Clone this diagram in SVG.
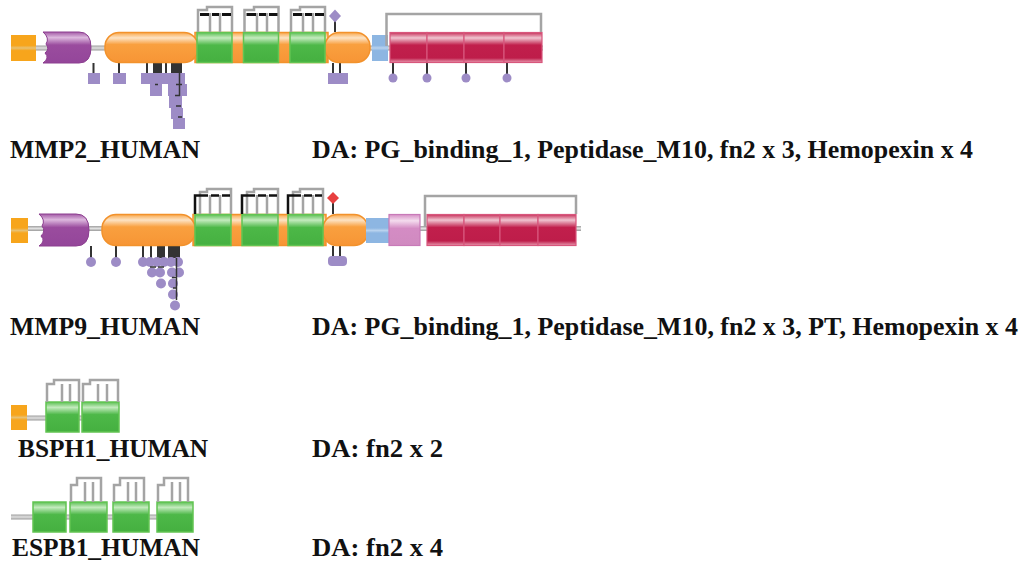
<svg xmlns="http://www.w3.org/2000/svg" width="1024" height="571" viewBox="0 0 1024 571">
<defs>
<linearGradient id="gOr" x1="0" y1="0" x2="0" y2="1"><stop offset="0" stop-color="#F9A84C"/><stop offset="0.18" stop-color="#FDE3C4"/><stop offset="0.4" stop-color="#F9A03F"/><stop offset="1" stop-color="#F79535"/></linearGradient>
<linearGradient id="gGr" x1="0" y1="0" x2="0" y2="1"><stop offset="0" stop-color="#5CC054"/><stop offset="0.18" stop-color="#C4EBBE"/><stop offset="0.42" stop-color="#4DB848"/><stop offset="1" stop-color="#45B040"/></linearGradient>
<linearGradient id="gRd" x1="0" y1="0" x2="0" y2="1"><stop offset="0" stop-color="#C8325C"/><stop offset="0.18" stop-color="#F0C4D0"/><stop offset="0.42" stop-color="#C11F4C"/><stop offset="0.85" stop-color="#BE1D4A"/><stop offset="1" stop-color="#E89AB0"/></linearGradient>
<linearGradient id="gPu" x1="0" y1="0" x2="0" y2="1"><stop offset="0" stop-color="#A35AA6"/><stop offset="0.18" stop-color="#DDB8DE"/><stop offset="0.42" stop-color="#9A4C9E"/><stop offset="1" stop-color="#94469A"/></linearGradient>
<linearGradient id="gBl" x1="0" y1="0" x2="0" y2="1"><stop offset="0" stop-color="#8DB6E2"/><stop offset="0.4" stop-color="#8DB6E2"/><stop offset="0.5" stop-color="#B8D2EE"/><stop offset="0.6" stop-color="#8DB6E2"/><stop offset="1" stop-color="#8DB6E2"/></linearGradient>
<linearGradient id="gPk" x1="0" y1="0" x2="0" y2="1"><stop offset="0" stop-color="#D690C6"/><stop offset="0.2" stop-color="#F4DCEE"/><stop offset="0.45" stop-color="#D48CC4"/><stop offset="1" stop-color="#D08AC0"/></linearGradient>
<linearGradient id="gSq" x1="0" y1="0" x2="0" y2="1"><stop offset="0" stop-color="#F7A51C"/><stop offset="0.4" stop-color="#F7A51C"/><stop offset="0.5" stop-color="#E8C070"/><stop offset="0.6" stop-color="#F7A51C"/><stop offset="1" stop-color="#F7A51C"/></linearGradient>
<linearGradient id="gLn" x1="0" y1="0" x2="0" y2="1"><stop offset="0" stop-color="#A0A0A0"/><stop offset="0.5" stop-color="#E0E0E0"/><stop offset="1" stop-color="#9A9A9A"/></linearGradient>
<style>
.ln{fill:url(#gLn)}
.sq{fill:url(#gSq)}
.or{fill:url(#gOr);stroke:#F2922C;stroke-width:1.5}
.gr{fill:url(#gGr);stroke:#62C452;stroke-width:1.5}
.rd{fill:url(#gRd);stroke:#D8567C;stroke-width:1.2}
.pu{fill:url(#gPu);stroke:#8C3E90;stroke-width:1}
.bl{fill:url(#gBl)}
.pk{fill:url(#gPk);stroke:#C87AB8;stroke-width:1.2}
.cg{fill:none;stroke:#A4A4A4;stroke-width:2.5}
.cb{fill:none;stroke:#111;stroke-width:3}
.ck{fill:none;stroke:#111;stroke-width:2.5}
.st{stroke:#333;stroke-width:2;fill:none}
.pp{fill:#9D8CC6}
.lbl{font-family:"Liberation Serif","Times New Roman",serif;font-weight:bold;font-size:26px;fill:#111}
</style>
</defs>

<g id="connectors">
<rect class="ln" x="11" y="45.5" width="532" height="5"/>
<rect class="ln" x="11" y="226" width="570" height="5"/>
<rect class="ln" x="11" y="415.5" width="108" height="5"/>
<rect class="ln" x="11" y="514.5" width="182" height="5"/>
</g>

<g id="mmp2">
<rect class="sq" x="11" y="35" width="25" height="26"/>
<path class="pu" d="M43,32 H79 Q91,32 91,47.5 Q91,63 79,63 H43 Q50,58 45,53 Q50,49 46,44 Q50,38 43,32 Z"/>
<g id="mmp2-pins">
<path class="st" d="M93.5,63V74 M119,63V74 M147,63V74 M166,63V74"/>
<rect fill="#333" x="153" y="63" width="9" height="10"/>
<rect fill="#333" x="171" y="63" width="11" height="10"/>
<rect class="pp" x="88" y="73" width="12" height="11"/>
<rect class="pp" x="113" y="73" width="13" height="11"/>
<rect class="pp" x="141" y="73" width="44" height="11"/>
<rect class="pp" x="150" y="84" width="12" height="12"/>
<rect class="pp" x="168" y="84" width="19" height="12"/>
<rect class="pp" x="169" y="96" width="13" height="12"/>
<rect class="pp" x="171" y="108" width="12" height="11"/>
<rect class="pp" x="173" y="118" width="12" height="11"/>
<path stroke="#333" stroke-width="1.5" d="M179.5,73V96 M155,84.5h3 M176,84.5h6 M175,95.5h5 M176,106h5 M178,117h4"/>
<path class="st" d="M333,63V74 M340,63V74"/>
<rect class="pp" x="328" y="73" width="20" height="11"/>
<path class="st" d="M335,21V32"/>
<path class="pp" d="M335,9.5 L341,16 L335,22.5 L329,16 Z"/>
<path class="st" d="M393,63V75 M427,63V75 M466,63V75 M507,63V75"/>
<circle class="pp" cx="393" cy="78" r="4.5"/>
<circle class="pp" cx="427" cy="78" r="4.5"/>
<circle class="pp" cx="466" cy="78" r="4.5"/>
<circle class="pp" cx="507" cy="78" r="4.5"/>
</g>
<rect class="or" x="195" y="32.5" width="133" height="30"/>
<rect class="or" x="105" y="32.5" width="93" height="30" rx="14"/>
<rect class="or" x="325" y="32.5" width="45" height="30" rx="14"/>
<rect class="gr" x="197" y="32.5" width="35" height="30"/>
<rect class="gr" x="243.5" y="32.5" width="35" height="30"/>
<rect class="gr" x="290" y="32.5" width="35" height="30"/>
<path class="cg" d="M198,32V10H207V7H232V32 M210,13V32 M220,13V32"/>
<path class="cb" d="M200,14.5H209 M212,14.5H219 M222,14.5H231"/>
<path class="cg" d="M244.5,32V10H254V7H278.5V32 M257,13V32 M267,13V32"/>
<path class="cb" d="M246.5,14.5H256 M259,14.5H266 M269,14.5H277.5"/>
<path class="cg" d="M291,32V10H300V7H325V32 M303,13V32 M313,13V32"/>
<path class="cb" d="M293,14.5H302 M305,14.5H312 M315,14.5H324"/>
<rect class="bl" x="372" y="35" width="16" height="26"/>
<rect class="rd" x="390" y="32.5" width="37" height="30"/>
<rect class="rd" x="427" y="32.5" width="37" height="30"/>
<rect class="rd" x="464" y="32.5" width="40" height="30"/>
<rect class="rd" x="504" y="32.5" width="38" height="30"/>
<path class="cg" d="M386.5,46V14H541V32"/>
<text class="lbl" x="10" y="158" textLength="190" lengthAdjust="spacingAndGlyphs">MMP2_HUMAN</text>
<text class="lbl" x="312" y="158" textLength="661" lengthAdjust="spacingAndGlyphs">DA: PG_binding_1, Peptidase_M10, fn2 x 3, Hemopexin x 4</text>
</g>

<g id="mmp9">
<rect class="sq" x="11" y="218" width="17" height="25"/>
<path class="pu" d="M39,214 H76 Q89,214 89,230 Q89,246 76,246 H39 Q46,241 41,236 Q46,231 42,226 Q46,220 39,214 Z"/>
<g id="mmp9-pins">
<path class="st" d="M91,246V258 M116,246V258 M143,246V258 M151,246V258"/>
<rect fill="#333" x="157" y="246" width="8" height="12"/>
<rect fill="#333" x="168" y="246" width="12" height="12"/>
<circle class="pp" cx="91" cy="262" r="5"/>
<circle class="pp" cx="116" cy="262" r="5"/>
<circle class="pp" cx="143" cy="262" r="5"/>
<circle class="pp" cx="150" cy="262" r="5"/>
<circle class="pp" cx="157" cy="262" r="5"/>
<circle class="pp" cx="164" cy="262" r="5"/>
<circle class="pp" cx="171" cy="262" r="5"/>
<circle class="pp" cx="178" cy="262" r="5"/>
<circle class="pp" cx="152" cy="272.5" r="5"/>
<circle class="pp" cx="160" cy="272.5" r="5"/>
<circle class="pp" cx="172" cy="272.5" r="5"/>
<circle class="pp" cx="179" cy="272.5" r="5"/>
<circle class="pp" cx="161" cy="283.5" r="5"/>
<circle class="pp" cx="173" cy="283.5" r="5"/>
<circle class="pp" cx="173" cy="294.5" r="5"/>
<circle class="pp" cx="175" cy="305.5" r="5"/>
<path stroke="#333" stroke-width="1.5" d="M176.5,258V300 M150,267h6 M158,267h6 M172,277.5h5 M173,288h3"/>
<path class="st" d="M333,246V257 M340,246V257"/>
<rect class="pp" x="328" y="256" width="19" height="10" rx="4"/>
<path class="st" d="M333,203V214"/>
<path fill="#E84040" d="M333,192 L339,198 L333,204 L327,198 Z"/>
</g>
<rect class="or" x="193" y="214.5" width="133" height="31"/>
<rect class="or" x="102" y="214.5" width="93" height="31" rx="14"/>
<rect class="or" x="323" y="214.5" width="45" height="31" rx="14"/>
<rect class="gr" x="195" y="214.5" width="36" height="31"/>
<rect class="gr" x="242" y="214.5" width="36" height="31"/>
<rect class="gr" x="288" y="214.5" width="35" height="31"/>
<path class="cg" d="M200,214V192H207V189H231V214 M210,195V214 M220,195V214"/>
<path class="ck" d="M195,214V195.5H208 M211,195.5H219 M222,195.5H230"/>
<path class="cg" d="M247,214V192H254V189H278V214 M257,195V214 M267,195V214"/>
<path class="ck" d="M242,214V195.5H255 M258,195.5H266 M269,195.5H277"/>
<path class="cg" d="M293,214V192H300V189H323V214 M303,195V214 M313,195V214"/>
<path class="ck" d="M288,214V195.5H301 M304,195.5H312 M315,195.5H322"/>
<rect class="bl" x="366" y="218" width="23" height="25"/>
<rect class="pk" x="389" y="214.5" width="31" height="31"/>
<rect class="rd" x="427" y="214.5" width="37" height="31"/>
<rect class="rd" x="464" y="214.5" width="36" height="31"/>
<rect class="rd" x="500" y="214.5" width="38" height="31"/>
<rect class="rd" x="538" y="214.5" width="38" height="31"/>
<path class="cg" d="M425,227V196H576V214"/>
<text class="lbl" x="10" y="335" textLength="190" lengthAdjust="spacingAndGlyphs">MMP9_HUMAN</text>
<text class="lbl" x="312" y="335" textLength="706" lengthAdjust="spacingAndGlyphs">DA: PG_binding_1, Peptidase_M10, fn2 x 3, PT, Hemopexin x 4</text>
</g>

<g id="bsph1">
<rect class="sq" x="11" y="405" width="16" height="25"/>
<rect class="gr" x="46" y="402" width="33" height="30"/>
<rect class="gr" x="82" y="402" width="37" height="30"/>
<path class="cg" d="M47,402V384H54V380H79V402 M62,384V402 M70,384V402"/>
<path class="cg" d="M83,402V384H90V380H118V402 M98,384V402 M107,384V402"/>
<text class="lbl" x="18" y="457" textLength="190" lengthAdjust="spacingAndGlyphs">BSPH1_HUMAN</text>
<text class="lbl" x="312" y="457" textLength="131" lengthAdjust="spacingAndGlyphs">DA: fn2 x 2</text>
</g>

<g id="espb1">
<rect class="gr" x="33" y="502" width="33" height="30"/>
<rect class="gr" x="70" y="502" width="37" height="30"/>
<rect class="gr" x="113" y="502" width="36" height="30"/>
<rect class="gr" x="157" y="502" width="36" height="30"/>
<path class="cg" d="M71,502V485H77V478H101V502 M85,482V502 M93,482V502"/>
<path class="cg" d="M114,502V485H120V478H144V502 M128,482V502 M136,482V502"/>
<path class="cg" d="M158,502V485H164V478H188V502 M172,482V502 M180,482V502"/>
<text class="lbl" x="12" y="556" textLength="188" lengthAdjust="spacingAndGlyphs">ESPB1_HUMAN</text>
<text class="lbl" x="312" y="556" textLength="131" lengthAdjust="spacingAndGlyphs">DA: fn2 x 4</text>
</g>
</svg>
